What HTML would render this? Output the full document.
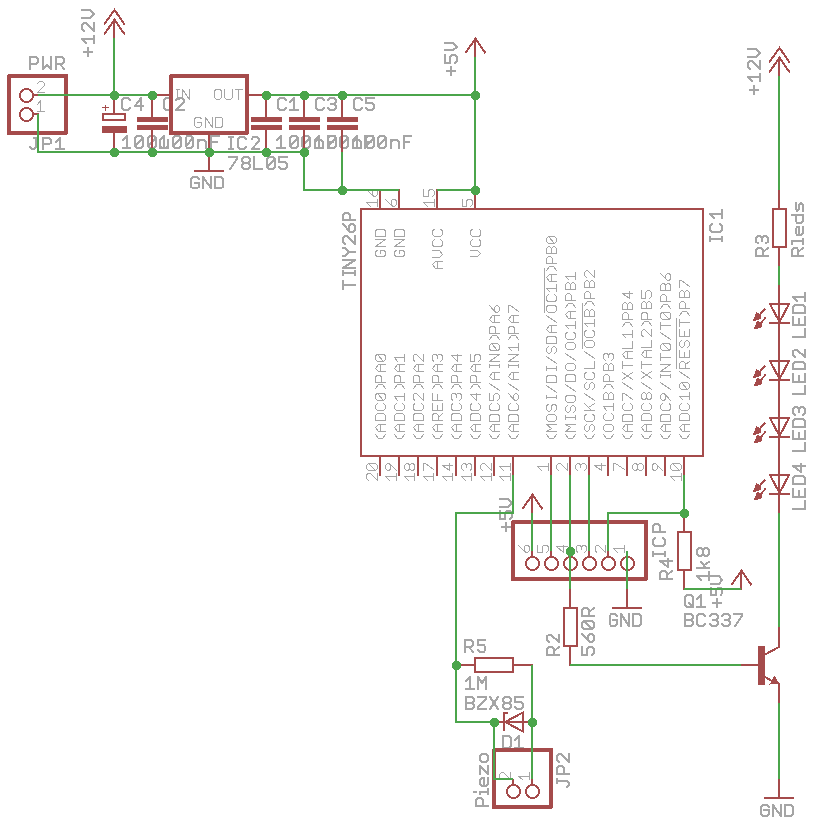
<!DOCTYPE html>
<html><head><meta charset="utf-8"><title>Schematic</title><style>
html,body{margin:0;padding:0;background:#fff;overflow:hidden;}
svg{display:block;}
</style></head><body>
<svg width="818" height="824" viewBox="0 0 818 824" shape-rendering="crispEdges">
<rect width="818" height="824" fill="#fff"/>
<g><path d="M30.00 69.00 L30.00 57.00 L36.00 57.00 L38.00 59.00 L38.00 62.00 L36.00 64.00 L30.00 64.00 M43.00 57.00 L43.00 69.00 L47.00 65.00 L51.00 69.00 L51.00 57.00 M56.00 69.00 L56.00 57.00 L62.00 57.00 L64.00 59.00 L64.00 62.00 L62.00 64.00 L56.00 64.00 M60.00 64.00 L64.00 69.00 M30.00 147.00 L32.00 149.00 L34.00 149.00 L36.00 147.00 L36.00 138.00 M34.00 138.00 L38.00 138.00 M43.00 149.00 L43.00 138.00 L49.00 138.00 L51.00 140.00 L51.00 143.00 L49.00 144.00 L43.00 144.00 M56.00 142.00 L60.00 138.00 L60.00 149.00 M56.00 149.00 L64.00 149.00 M88.00 56.00 L88.00 48.00 M92.00 52.00 L84.00 52.00 M86.00 43.00 L82.00 39.00 L94.00 39.00 M94.00 43.00 L94.00 36.00 M84.00 31.00 L82.00 29.00 L82.00 25.00 L84.00 23.00 L86.00 23.00 L94.00 31.00 L94.00 23.00 M82.00 18.00 L90.00 18.00 L94.00 14.00 L90.00 10.00 L82.00 10.00 M130.00 100.00 L128.00 98.00 L124.00 98.00 L122.00 100.00 L122.00 108.00 L124.00 110.00 L128.00 110.00 L130.00 108.00 M141.00 110.00 L141.00 98.00 L135.00 106.00 L143.00 106.00 M172.00 100.00 L170.00 98.00 L166.00 98.00 L164.00 100.00 L164.00 108.00 L166.00 110.00 L170.00 110.00 L172.00 108.00 M176.00 100.00 L178.00 98.00 L182.00 98.00 L184.00 100.00 L184.00 102.00 L176.00 110.00 L184.00 110.00 M123.00 140.00 L127.00 136.00 L127.00 148.00 M123.00 148.00 L130.00 148.00 M137.00 148.00 L135.00 146.00 L135.00 138.00 L137.00 136.00 L141.00 136.00 L143.00 138.00 L143.00 146.00 L141.00 148.00 L137.00 148.00 M135.00 146.00 L143.00 138.00 M150.00 148.00 L148.00 146.00 L148.00 138.00 L150.00 136.00 L154.00 136.00 L156.00 138.00 L156.00 146.00 L154.00 148.00 L150.00 148.00 M148.00 146.00 L156.00 138.00 M160.00 140.00 L160.00 146.00 L162.00 148.00 L166.00 148.00 L168.00 146.00 M168.00 140.00 L168.00 148.00 M160.00 140.00 L164.00 136.00 L164.00 148.00 M160.00 148.00 L168.00 148.00 M175.00 148.00 L173.00 146.00 L173.00 138.00 L175.00 136.00 L179.00 136.00 L181.00 138.00 L181.00 146.00 L179.00 148.00 L175.00 148.00 M173.00 146.00 L181.00 138.00 M187.00 148.00 L186.00 146.00 L186.00 138.00 L187.00 136.00 L191.00 136.00 L193.00 138.00 L193.00 146.00 L191.00 148.00 L187.00 148.00 M186.00 146.00 L193.00 138.00 M198.00 148.00 L198.00 140.00 M198.00 142.00 L200.00 140.00 L204.00 140.00 L206.00 142.00 L206.00 148.00 M219.00 136.00 L211.00 136.00 L211.00 148.00 M211.00 142.00 L217.00 142.00 M229.00 137.00 L233.00 137.00 M231.00 137.00 L231.00 149.00 M229.00 149.00 L233.00 149.00 M246.00 139.00 L244.00 137.00 L240.00 137.00 L238.00 139.00 L238.00 147.00 L240.00 149.00 L244.00 149.00 L246.00 147.00 M252.00 139.00 L253.00 137.00 L257.00 137.00 L259.00 139.00 L259.00 141.00 L252.00 149.00 L259.00 149.00 M229.00 157.00 L237.00 157.00 L237.00 159.00 L230.00 169.00 M244.00 163.00 L242.00 161.00 L242.00 159.00 L244.00 157.00 L248.00 157.00 L250.00 159.00 L250.00 161.00 L248.00 163.00 L244.00 163.00 L242.00 165.00 L242.00 167.00 L244.00 169.00 L248.00 169.00 L250.00 167.00 L250.00 165.00 L248.00 163.00 M254.00 157.00 L254.00 169.00 L262.00 169.00 M269.00 169.00 L267.00 167.00 L267.00 159.00 L269.00 157.00 L273.00 157.00 L275.00 159.00 L275.00 167.00 L273.00 169.00 L269.00 169.00 M267.00 167.00 L275.00 159.00 M287.00 157.00 L279.00 157.00 L279.00 162.00 L285.00 162.00 L287.00 164.00 L287.00 167.00 L285.00 169.00 L281.00 169.00 L279.00 167.00 M199.00 179.00 L197.00 177.00 L193.00 177.00 L191.00 179.00 L191.00 187.00 L193.00 188.00 L197.00 188.00 L199.00 187.00 L199.00 183.00 L195.00 183.00 M203.00 188.00 L203.00 177.00 L211.00 188.00 L211.00 177.00 M215.00 188.00 L215.00 177.00 L221.00 177.00 L223.00 179.00 L223.00 187.00 L221.00 188.00 L215.00 188.00 M286.00 100.00 L284.00 98.00 L280.00 98.00 L278.00 100.00 L278.00 108.00 L280.00 110.00 L284.00 110.00 L286.00 108.00 M290.00 102.00 L294.00 98.00 L294.00 110.00 M290.00 110.00 L298.00 110.00 M277.00 140.00 L281.00 136.00 L281.00 148.00 M277.00 148.00 L285.00 148.00 M292.00 148.00 L290.00 146.00 L290.00 138.00 L292.00 136.00 L296.00 136.00 L298.00 138.00 L298.00 146.00 L296.00 148.00 L292.00 148.00 M290.00 146.00 L298.00 138.00 M304.00 148.00 L302.00 146.00 L302.00 138.00 L304.00 136.00 L308.00 136.00 L310.00 138.00 L310.00 146.00 L308.00 148.00 L304.00 148.00 M302.00 146.00 L310.00 138.00 M315.00 148.00 L315.00 140.00 M315.00 142.00 L317.00 140.00 L321.00 140.00 L323.00 142.00 L323.00 148.00 M335.00 136.00 L328.00 136.00 L328.00 148.00 M328.00 142.00 L333.00 142.00 M324.00 100.00 L322.00 98.00 L318.00 98.00 L316.00 100.00 L316.00 108.00 L318.00 110.00 L322.00 110.00 L324.00 108.00 M328.00 100.00 L330.00 98.00 L334.00 98.00 L336.00 100.00 L336.00 102.00 L334.00 104.00 L336.00 106.00 L336.00 108.00 L334.00 110.00 L330.00 110.00 L328.00 108.00 M334.00 104.00 L331.00 104.00 M315.00 140.00 L319.00 136.00 L319.00 148.00 M315.00 148.00 L323.00 148.00 M330.00 148.00 L328.00 146.00 L328.00 138.00 L330.00 136.00 L334.00 136.00 L336.00 138.00 L336.00 146.00 L334.00 148.00 L330.00 148.00 M328.00 146.00 L336.00 138.00 M342.00 148.00 L340.00 146.00 L340.00 138.00 L342.00 136.00 L346.00 136.00 L348.00 138.00 L348.00 146.00 L346.00 148.00 L342.00 148.00 M340.00 146.00 L348.00 138.00 M353.00 148.00 L353.00 140.00 M353.00 142.00 L355.00 140.00 L359.00 140.00 L361.00 142.00 L361.00 148.00 M373.00 136.00 L365.00 136.00 L365.00 148.00 M365.00 142.00 L371.00 142.00 M362.00 100.00 L360.00 98.00 L356.00 98.00 L354.00 100.00 L354.00 108.00 L356.00 110.00 L360.00 110.00 L362.00 108.00 M374.00 98.00 L366.00 98.00 L366.00 103.00 L372.00 103.00 L374.00 105.00 L374.00 108.00 L372.00 110.00 L368.00 110.00 L366.00 108.00 M353.00 140.00 L357.00 136.00 L357.00 148.00 M353.00 148.00 L361.00 148.00 M368.00 148.00 L366.00 146.00 L366.00 138.00 L368.00 136.00 L372.00 136.00 L374.00 138.00 L374.00 146.00 L372.00 148.00 L368.00 148.00 M366.00 146.00 L374.00 138.00 M380.00 148.00 L378.00 146.00 L378.00 138.00 L380.00 136.00 L384.00 136.00 L386.00 138.00 L386.00 146.00 L384.00 148.00 L380.00 148.00 M378.00 146.00 L386.00 138.00 M391.00 148.00 L391.00 140.00 M391.00 142.00 L393.00 140.00 L397.00 140.00 L399.00 142.00 L399.00 148.00 M411.00 136.00 L404.00 136.00 L404.00 148.00 M404.00 142.00 L409.00 142.00 M451.00 75.00 L451.00 67.00 M455.00 71.00 L447.00 71.00 M445.00 55.00 L445.00 63.00 L450.00 63.00 L450.00 57.00 L452.00 55.00 L455.00 55.00 L457.00 57.00 L457.00 61.00 L455.00 63.00 M445.00 50.00 L453.00 50.00 L457.00 47.00 L453.00 43.00 L445.00 43.00 M343.00 289.00 L343.00 281.00 M343.00 285.00 L355.00 285.00 M343.00 275.00 L343.00 271.00 M343.00 273.00 L355.00 273.00 M355.00 275.00 L355.00 271.00 M355.00 268.00 L343.00 268.00 L355.00 260.00 L343.00 260.00 M343.00 256.00 L345.00 256.00 L349.00 252.00 L345.00 248.00 L343.00 248.00 M349.00 252.00 L355.00 252.00 M345.00 244.00 L343.00 242.00 L343.00 238.00 L345.00 236.00 L347.00 236.00 L355.00 244.00 L355.00 236.00 M343.00 224.00 L350.00 232.00 L353.00 232.00 L355.00 230.00 L355.00 226.00 L353.00 224.00 L351.00 224.00 L349.00 226.00 L349.00 230.00 L350.00 232.00 M355.00 220.00 L343.00 220.00 L343.00 215.00 L345.00 213.00 L348.00 213.00 L350.00 215.00 L350.00 220.00 M710.00 241.00 L710.00 237.00 M710.00 239.00 L722.00 239.00 M722.00 241.00 L722.00 237.00 M712.00 224.00 L710.00 226.00 L710.00 230.00 L712.00 232.00 L720.00 232.00 L722.00 230.00 L722.00 226.00 L720.00 224.00 M714.00 218.00 L710.00 214.00 L722.00 214.00 M722.00 218.00 L722.00 210.00 M506.00 531.00 L506.00 523.00 M510.00 527.00 L502.00 527.00 M500.00 511.00 L500.00 519.00 L505.00 519.00 L505.00 513.00 L507.00 511.00 L510.00 511.00 L512.00 513.00 L512.00 517.00 L510.00 519.00 M500.00 507.00 L508.00 507.00 L512.00 503.00 L508.00 499.00 L500.00 499.00 M653.00 556.00 L653.00 552.00 M653.00 554.00 L665.00 554.00 M665.00 556.00 L665.00 552.00 M655.00 538.00 L653.00 540.00 L653.00 544.00 L655.00 546.00 L663.00 546.00 L665.00 544.00 L665.00 540.00 L663.00 538.00 M665.00 532.00 L653.00 532.00 L653.00 526.00 L655.00 524.00 L658.00 524.00 L660.00 526.00 L660.00 532.00 M672.00 579.00 L660.00 579.00 L660.00 573.00 L662.00 571.00 L665.00 571.00 L667.00 573.00 L667.00 579.00 M667.00 575.00 L672.00 571.00 M672.00 561.00 L660.00 561.00 L668.00 567.00 L668.00 559.00 M701.00 580.00 L697.00 576.00 L709.00 576.00 M709.00 580.00 L709.00 572.00 M709.00 568.00 L697.00 568.00 M701.00 562.00 L706.00 568.00 M704.00 565.00 L709.00 562.00 M703.00 554.00 L701.00 556.00 L699.00 556.00 L697.00 554.00 L697.00 550.00 L699.00 548.00 L701.00 548.00 L703.00 550.00 L703.00 554.00 L705.00 556.00 L707.00 556.00 L709.00 554.00 L709.00 550.00 L707.00 548.00 L705.00 548.00 L703.00 550.00 M717.00 607.00 L717.00 599.00 M721.00 603.00 L713.00 603.00 M711.00 588.00 L711.00 595.00 L716.00 595.00 L716.00 590.00 L718.00 588.00 L721.00 588.00 L722.00 590.00 L722.00 593.00 L721.00 595.00 M711.00 584.00 L719.00 584.00 L722.00 580.00 L719.00 576.00 L711.00 576.00 M687.00 607.00 L685.00 605.00 L685.00 597.00 L687.00 595.00 L691.00 595.00 L693.00 597.00 L693.00 605.00 L691.00 607.00 L687.00 607.00 M689.00 603.00 L693.00 607.00 M697.00 599.00 L701.00 595.00 L701.00 607.00 M697.00 607.00 L705.00 607.00 M685.00 626.00 L685.00 614.00 L691.00 614.00 L693.00 616.00 L693.00 618.00 L691.00 620.00 L693.00 622.00 L693.00 624.00 L691.00 626.00 L685.00 626.00 M685.00 620.00 L691.00 620.00 M705.00 616.00 L703.00 614.00 L699.00 614.00 L697.00 616.00 L697.00 624.00 L699.00 626.00 L703.00 626.00 L705.00 624.00 M710.00 616.00 L712.00 614.00 L716.00 614.00 L718.00 616.00 L718.00 618.00 L716.00 620.00 L718.00 622.00 L718.00 624.00 L716.00 626.00 L712.00 626.00 L710.00 624.00 M716.00 620.00 L713.00 620.00 M722.00 616.00 L724.00 614.00 L728.00 614.00 L730.00 616.00 L730.00 618.00 L728.00 620.00 L730.00 622.00 L730.00 624.00 L728.00 626.00 L724.00 626.00 L722.00 624.00 M728.00 620.00 L725.00 620.00 M734.00 614.00 L742.00 614.00 L742.00 616.00 L735.00 626.00 M617.00 616.00 L615.00 614.00 L611.00 614.00 L610.00 616.00 L610.00 624.00 L611.00 626.00 L615.00 626.00 L617.00 624.00 L617.00 620.00 L613.00 620.00 M621.00 626.00 L621.00 614.00 L629.00 626.00 L629.00 614.00 M633.00 626.00 L633.00 614.00 L639.00 614.00 L641.00 616.00 L641.00 624.00 L639.00 626.00 L633.00 626.00 M559.00 655.00 L547.00 655.00 L547.00 649.00 L549.00 647.00 L552.00 647.00 L554.00 649.00 L554.00 655.00 M554.00 651.00 L559.00 647.00 M549.00 642.00 L547.00 640.00 L547.00 636.00 L549.00 635.00 L551.00 635.00 L559.00 642.00 L559.00 635.00 M582.00 647.00 L582.00 655.00 L587.00 655.00 L587.00 649.00 L589.00 647.00 L592.00 647.00 L594.00 649.00 L594.00 653.00 L592.00 655.00 M582.00 634.00 L590.00 642.00 L592.00 642.00 L594.00 640.00 L594.00 636.00 L592.00 634.00 L590.00 634.00 L588.00 636.00 L588.00 640.00 L590.00 642.00 M594.00 627.00 L592.00 629.00 L584.00 629.00 L582.00 627.00 L582.00 623.00 L584.00 621.00 L592.00 621.00 L594.00 623.00 L594.00 627.00 M592.00 629.00 L584.00 621.00 M594.00 616.00 L582.00 616.00 L582.00 610.00 L584.00 608.00 L587.00 608.00 L589.00 610.00 L589.00 616.00 M589.00 612.00 L594.00 608.00 M465.00 652.00 L465.00 640.00 L471.00 640.00 L473.00 642.00 L473.00 645.00 L471.00 647.00 L465.00 647.00 M469.00 647.00 L473.00 652.00 M485.00 640.00 L478.00 640.00 L478.00 645.00 L484.00 645.00 L485.00 647.00 L485.00 650.00 L484.00 652.00 L480.00 652.00 L478.00 650.00 M466.00 681.00 L470.00 677.00 L470.00 689.00 M466.00 689.00 L474.00 689.00 M478.00 689.00 L478.00 677.00 L482.00 683.00 L486.00 677.00 L486.00 689.00 M466.00 709.00 L466.00 697.00 L472.00 697.00 L474.00 699.00 L474.00 701.00 L472.00 703.00 L474.00 705.00 L474.00 707.00 L472.00 709.00 L466.00 709.00 M466.00 703.00 L472.00 703.00 M478.00 697.00 L486.00 697.00 L486.00 699.00 L478.00 707.00 L478.00 709.00 L486.00 709.00 M490.00 709.00 L498.00 697.00 M490.00 697.00 L498.00 709.00 M505.00 703.00 L503.00 701.00 L503.00 699.00 L505.00 697.00 L509.00 697.00 L511.00 699.00 L511.00 701.00 L509.00 703.00 L505.00 703.00 L503.00 705.00 L503.00 707.00 L505.00 709.00 L509.00 709.00 L511.00 707.00 L511.00 705.00 L509.00 703.00 M523.00 697.00 L515.00 697.00 L515.00 702.00 L521.00 702.00 L523.00 704.00 L523.00 707.00 L521.00 709.00 L517.00 709.00 L515.00 707.00 M503.00 748.00 L503.00 736.00 L509.00 736.00 L511.00 738.00 L511.00 746.00 L509.00 748.00 L503.00 748.00 M515.00 740.00 L519.00 736.00 L519.00 748.00 M515.00 748.00 L523.00 748.00 M488.00 806.00 L476.00 806.00 L476.00 800.00 L478.00 798.00 L481.00 798.00 L483.00 800.00 L483.00 806.00 M480.00 794.00 L480.00 792.00 L488.00 792.00 M488.00 794.00 L488.00 789.00 M476.00 792.00 L474.00 792.00 M488.00 778.00 L488.00 784.00 L486.00 786.00 L482.00 786.00 L480.00 784.00 L480.00 780.00 L482.00 778.00 L484.00 778.00 L484.00 786.00 M480.00 774.00 L480.00 766.00 L488.00 774.00 L488.00 766.00 M488.00 760.00 L486.00 762.00 L482.00 762.00 L480.00 760.00 L480.00 756.00 L482.00 754.00 L486.00 754.00 L488.00 756.00 L488.00 760.00 M567.00 787.00 L569.00 785.00 L569.00 783.00 L567.00 781.00 L557.00 781.00 M557.00 783.00 L557.00 779.00 M569.00 774.00 L557.00 774.00 L557.00 768.00 L559.00 766.00 L562.00 766.00 L564.00 768.00 L564.00 774.00 M559.00 762.00 L557.00 760.00 L557.00 756.00 L559.00 754.00 L561.00 754.00 L569.00 762.00 L569.00 754.00 M768.00 256.00 L756.00 256.00 L756.00 250.00 L758.00 248.00 L761.00 248.00 L763.00 250.00 L763.00 256.00 M763.00 252.00 L768.00 248.00 M758.00 243.00 L756.00 242.00 L756.00 238.00 L758.00 236.00 L760.00 236.00 L762.00 238.00 L764.00 236.00 L766.00 236.00 L768.00 238.00 L768.00 242.00 L766.00 243.00 M762.00 238.00 L762.00 241.00 M803.00 256.00 L792.00 256.00 L792.00 250.00 L794.00 248.00 L797.00 248.00 L798.00 250.00 L798.00 256.00 M798.00 252.00 L803.00 248.00 M792.00 244.00 L792.00 241.00 L803.00 241.00 M803.00 244.00 L803.00 239.00 M803.00 227.00 L803.00 233.00 L801.00 235.00 L797.00 235.00 L796.00 233.00 L796.00 229.00 L797.00 227.00 L799.00 227.00 L799.00 235.00 M792.00 215.00 L803.00 215.00 L803.00 221.00 L801.00 223.00 L797.00 223.00 L796.00 221.00 L796.00 215.00 M796.00 203.00 L796.00 209.00 L797.00 211.00 L799.00 209.00 L799.00 205.00 L801.00 203.00 L803.00 205.00 L803.00 211.00 M793.00 337.00 L805.00 337.00 L805.00 329.00 M793.00 317.00 L793.00 325.00 L805.00 325.00 L805.00 317.00 M799.00 325.00 L799.00 319.00 M805.00 313.00 L793.00 313.00 L793.00 307.00 L795.00 305.00 L803.00 305.00 L805.00 307.00 L805.00 313.00 M797.00 301.00 L793.00 297.00 L805.00 297.00 M805.00 301.00 L805.00 293.00 M793.00 394.00 L805.00 394.00 L805.00 386.00 M793.00 374.00 L793.00 382.00 L805.00 382.00 L805.00 374.00 M799.00 382.00 L799.00 376.00 M805.00 369.00 L793.00 369.00 L793.00 364.00 L795.00 362.00 L803.00 362.00 L805.00 364.00 L805.00 369.00 M795.00 357.00 L793.00 355.00 L793.00 351.00 L795.00 350.00 L797.00 350.00 L805.00 357.00 L805.00 350.00 M793.00 451.00 L805.00 451.00 L805.00 443.00 M793.00 431.00 L793.00 439.00 L805.00 439.00 L805.00 431.00 M799.00 439.00 L799.00 433.00 M805.00 427.00 L793.00 427.00 L793.00 421.00 L795.00 419.00 L803.00 419.00 L805.00 421.00 L805.00 427.00 M795.00 415.00 L793.00 413.00 L793.00 409.00 L795.00 407.00 L797.00 407.00 L799.00 409.00 L801.00 407.00 L803.00 407.00 L805.00 409.00 L805.00 413.00 L803.00 415.00 M799.00 409.00 L799.00 412.00 M793.00 509.00 L805.00 509.00 L805.00 501.00 M793.00 489.00 L793.00 497.00 L805.00 497.00 L805.00 489.00 M799.00 497.00 L799.00 491.00 M805.00 484.00 L793.00 484.00 L793.00 478.00 L795.00 476.00 L803.00 476.00 L805.00 478.00 L805.00 484.00 M805.00 466.00 L793.00 466.00 L801.00 472.00 L801.00 464.00 M754.00 94.00 L754.00 86.00 M758.00 90.00 L750.00 90.00 M752.00 81.00 L748.00 77.00 L760.00 77.00 M760.00 81.00 L760.00 74.00 M750.00 69.00 L748.00 67.00 L748.00 63.00 L750.00 61.00 L752.00 61.00 L760.00 69.00 L760.00 61.00 M748.00 57.00 L756.00 57.00 L760.00 53.00 L756.00 49.00 L748.00 49.00 M769.00 807.00 L767.00 805.00 L763.00 805.00 L761.00 807.00 L761.00 814.00 L763.00 816.00 L767.00 816.00 L769.00 814.00 L769.00 810.00 L764.00 810.00 M773.00 816.00 L773.00 805.00 L781.00 816.00 L781.00 805.00 M785.00 816.00 L785.00 805.00 L791.00 805.00 L793.00 807.00 L793.00 814.00 L791.00 816.00 L785.00 816.00" fill="none" stroke="#A5A5A5" stroke-width="2.0" stroke-linecap="round" stroke-linejoin="round"/>
<path d="M176.50 89.50 L179.50 89.50 M177.50 89.50 L177.50 99.50 M176.50 99.50 L179.50 99.50 M182.50 99.50 L182.50 89.50 L189.50 99.50 L189.50 89.50 M216.50 99.50 L214.50 97.50 L214.50 90.50 L216.50 89.50 L219.50 89.50 L221.50 90.50 L221.50 97.50 L219.50 99.50 L216.50 99.50 M224.50 89.50 L224.50 97.50 L226.50 99.50 L230.50 99.50 L232.50 97.50 L232.50 89.50 M235.50 89.50 L242.50 89.50 M238.50 89.50 L238.50 99.50 M201.50 118.50 L199.50 117.50 L196.50 117.50 L194.50 118.50 L194.50 125.50 L196.50 127.50 L199.50 127.50 L201.50 125.50 L201.50 122.50 L197.50 122.50 M205.50 127.50 L205.50 117.50 L212.50 127.50 L212.50 117.50 M215.50 127.50 L215.50 117.50 L221.50 117.50 L222.50 118.50 L222.50 125.50 L221.50 127.50 L215.50 127.50 M377.50 250.50 L375.50 251.50 L375.50 255.50 L377.50 256.50 L383.50 256.50 L385.50 255.50 L385.50 251.50 L383.50 250.50 L380.50 250.50 L380.50 253.50 M385.50 246.50 L375.50 246.50 L385.50 239.50 L375.50 239.50 M385.50 236.50 L375.50 236.50 L375.50 230.50 L377.50 229.50 L383.50 229.50 L385.50 230.50 L385.50 236.50 M396.50 250.50 L394.50 251.50 L394.50 255.50 L396.50 256.50 L402.50 256.50 L404.50 255.50 L404.50 251.50 L402.50 250.50 L399.50 250.50 L399.50 253.50 M404.50 246.50 L394.50 246.50 L404.50 239.50 L394.50 239.50 M404.50 236.50 L394.50 236.50 L394.50 230.50 L396.50 229.50 L402.50 229.50 L404.50 230.50 L404.50 236.50 M442.50 268.50 L435.50 268.50 L432.50 264.50 L435.50 261.50 L442.50 261.50 M437.50 268.50 L437.50 261.50 M432.50 257.50 L439.50 257.50 L442.50 254.50 L439.50 250.50 L432.50 250.50 M434.50 239.50 L432.50 241.50 L432.50 245.50 L434.50 246.50 L440.50 246.50 L442.50 245.50 L442.50 241.50 L440.50 239.50 M434.50 229.50 L432.50 230.50 L432.50 234.50 L434.50 236.50 L440.50 236.50 L442.50 234.50 L442.50 230.50 L440.50 229.50 M470.50 256.50 L477.50 256.50 L480.50 253.50 L477.50 250.50 L470.50 250.50 M472.50 239.50 L470.50 241.50 L470.50 244.50 L472.50 246.50 L479.50 246.50 L480.50 244.50 L480.50 241.50 L479.50 239.50 M472.50 229.50 L470.50 230.50 L470.50 234.50 L472.50 236.50 L479.50 236.50 L480.50 234.50 L480.50 230.50 L479.50 229.50 M375.50 434.50 L378.50 438.50 L382.50 438.50 L385.50 434.50 M385.50 431.50 L378.50 431.50 L375.50 427.50 L378.50 424.50 L385.50 424.50 M380.50 431.50 L380.50 424.50 M385.50 420.50 L375.50 420.50 L375.50 415.50 L377.50 413.50 L383.50 413.50 L385.50 415.50 L385.50 420.50 M377.50 403.50 L375.50 405.50 L375.50 408.50 L377.50 410.50 L383.50 410.50 L385.50 408.50 L385.50 405.50 L383.50 403.50 M385.50 398.50 L383.50 400.50 L377.50 400.50 L375.50 398.50 L375.50 394.50 L377.50 393.50 L383.50 393.50 L385.50 394.50 L385.50 398.50 M383.50 400.50 L377.50 393.50 M375.50 388.50 L378.50 384.50 L382.50 384.50 L385.50 388.50 M385.50 382.50 L375.50 382.50 L375.50 376.50 L377.50 375.50 L379.50 375.50 L381.50 376.50 L381.50 382.50 M385.50 371.50 L378.50 371.50 L375.50 368.50 L378.50 364.50 L385.50 364.50 M380.50 371.50 L380.50 364.50 M385.50 359.50 L383.50 361.50 L377.50 361.50 L375.50 359.50 L375.50 355.50 L377.50 354.50 L383.50 354.50 L385.50 355.50 L385.50 359.50 M383.50 361.50 L377.50 354.50 M394.50 434.50 L397.50 438.50 L401.50 438.50 L404.50 434.50 M404.50 431.50 L397.50 431.50 L394.50 427.50 L397.50 424.50 L404.50 424.50 M399.50 431.50 L399.50 424.50 M404.50 420.50 L394.50 420.50 L394.50 415.50 L396.50 413.50 L402.50 413.50 L404.50 415.50 L404.50 420.50 M396.50 403.50 L394.50 405.50 L394.50 408.50 L396.50 410.50 L402.50 410.50 L404.50 408.50 L404.50 405.50 L402.50 403.50 M397.50 400.50 L394.50 396.50 L404.50 396.50 M404.50 400.50 L404.50 393.50 M394.50 388.50 L397.50 384.50 L401.50 384.50 L404.50 388.50 M404.50 382.50 L394.50 382.50 L394.50 376.50 L396.50 375.50 L398.50 375.50 L400.50 376.50 L400.50 382.50 M404.50 371.50 L397.50 371.50 L394.50 368.50 L397.50 364.50 L404.50 364.50 M399.50 371.50 L399.50 364.50 M397.50 361.50 L394.50 357.50 L404.50 357.50 M404.50 361.50 L404.50 354.50 M413.50 434.50 L416.50 438.50 L420.50 438.50 L423.50 434.50 M423.50 431.50 L416.50 431.50 L413.50 427.50 L416.50 424.50 L423.50 424.50 M418.50 431.50 L418.50 424.50 M423.50 420.50 L413.50 420.50 L413.50 415.50 L414.50 413.50 L421.50 413.50 L423.50 415.50 L423.50 420.50 M414.50 403.50 L413.50 405.50 L413.50 408.50 L414.50 410.50 L421.50 410.50 L423.50 408.50 L423.50 405.50 L421.50 403.50 M414.50 400.50 L413.50 398.50 L413.50 394.50 L414.50 393.50 L416.50 393.50 L423.50 400.50 L423.50 393.50 M413.50 388.50 L416.50 384.50 L420.50 384.50 L423.50 388.50 M423.50 382.50 L413.50 382.50 L413.50 376.50 L414.50 375.50 L417.50 375.50 L419.50 376.50 L419.50 382.50 M423.50 371.50 L416.50 371.50 L413.50 368.50 L416.50 364.50 L423.50 364.50 M418.50 371.50 L418.50 364.50 M414.50 361.50 L413.50 359.50 L413.50 355.50 L414.50 354.50 L416.50 354.50 L423.50 361.50 L423.50 354.50 M432.50 434.50 L435.50 438.50 L439.50 438.50 L442.50 434.50 M442.50 431.50 L435.50 431.50 L432.50 427.50 L435.50 424.50 L442.50 424.50 M437.50 431.50 L437.50 424.50 M442.50 420.50 L432.50 420.50 L432.50 415.50 L433.50 413.50 L436.50 413.50 L438.50 415.50 L438.50 420.50 M438.50 417.50 L442.50 413.50 M432.50 403.50 L432.50 410.50 L442.50 410.50 L442.50 403.50 M437.50 410.50 L437.50 405.50 M432.50 393.50 L432.50 400.50 L442.50 400.50 M437.50 400.50 L437.50 394.50 M432.50 388.50 L435.50 384.50 L439.50 384.50 L442.50 388.50 M442.50 382.50 L432.50 382.50 L432.50 376.50 L433.50 375.50 L436.50 375.50 L438.50 376.50 L438.50 382.50 M442.50 371.50 L435.50 371.50 L432.50 368.50 L435.50 364.50 L442.50 364.50 M437.50 371.50 L437.50 364.50 M433.50 361.50 L432.50 359.50 L432.50 355.50 L433.50 354.50 L435.50 354.50 L437.50 355.50 L438.50 354.50 L440.50 354.50 L442.50 355.50 L442.50 359.50 L440.50 361.50 M437.50 355.50 L437.50 358.50 M451.50 434.50 L454.50 438.50 L458.50 438.50 L461.50 434.50 M461.50 431.50 L454.50 431.50 L451.50 427.50 L454.50 424.50 L461.50 424.50 M456.50 431.50 L456.50 424.50 M461.50 420.50 L451.50 420.50 L451.50 415.50 L452.50 413.50 L459.50 413.50 L461.50 415.50 L461.50 420.50 M452.50 403.50 L451.50 405.50 L451.50 408.50 L452.50 410.50 L459.50 410.50 L461.50 408.50 L461.50 405.50 L459.50 403.50 M452.50 400.50 L451.50 398.50 L451.50 394.50 L452.50 393.50 L454.50 393.50 L456.50 394.50 L457.50 393.50 L459.50 393.50 L461.50 394.50 L461.50 398.50 L459.50 400.50 M456.50 394.50 L456.50 397.50 M451.50 388.50 L454.50 384.50 L458.50 384.50 L461.50 388.50 M461.50 382.50 L451.50 382.50 L451.50 376.50 L452.50 375.50 L455.50 375.50 L457.50 376.50 L457.50 382.50 M461.50 371.50 L454.50 371.50 L451.50 368.50 L454.50 364.50 L461.50 364.50 M456.50 371.50 L456.50 364.50 M461.50 355.50 L451.50 355.50 L457.50 361.50 L457.50 354.50 M470.50 434.50 L473.50 438.50 L477.50 438.50 L480.50 434.50 M480.50 431.50 L473.50 431.50 L470.50 427.50 L473.50 424.50 L480.50 424.50 M475.50 431.50 L475.50 424.50 M480.50 420.50 L470.50 420.50 L470.50 415.50 L471.50 413.50 L478.50 413.50 L480.50 415.50 L480.50 420.50 M471.50 403.50 L470.50 405.50 L470.50 408.50 L471.50 410.50 L478.50 410.50 L480.50 408.50 L480.50 405.50 L478.50 403.50 M480.50 394.50 L470.50 394.50 L476.50 400.50 L476.50 393.50 M470.50 388.50 L473.50 384.50 L477.50 384.50 L480.50 388.50 M480.50 382.50 L470.50 382.50 L470.50 376.50 L471.50 375.50 L474.50 375.50 L476.50 376.50 L476.50 382.50 M480.50 371.50 L473.50 371.50 L470.50 368.50 L473.50 364.50 L480.50 364.50 M475.50 371.50 L475.50 364.50 M470.50 354.50 L470.50 361.50 L474.50 361.50 L474.50 355.50 L476.50 354.50 L478.50 354.50 L480.50 355.50 L480.50 359.50 L478.50 361.50 M489.50 434.50 L492.50 438.50 L496.50 438.50 L499.50 434.50 M499.50 431.50 L492.50 431.50 L489.50 428.50 L492.50 424.50 L499.50 424.50 M494.50 431.50 L494.50 424.50 M499.50 421.50 L489.50 421.50 L489.50 415.50 L491.50 414.50 L497.50 414.50 L499.50 415.50 L499.50 421.50 M491.50 403.50 L489.50 405.50 L489.50 409.50 L491.50 410.50 L497.50 410.50 L499.50 409.50 L499.50 405.50 L497.50 403.50 M489.50 393.50 L489.50 400.50 L493.50 400.50 L493.50 395.50 L495.50 393.50 L497.50 393.50 L499.50 395.50 L499.50 398.50 L497.50 400.50 M499.50 390.50 L489.50 383.50 M499.50 379.50 L492.50 379.50 L489.50 376.50 L492.50 372.50 L499.50 372.50 M494.50 379.50 L494.50 372.50 M489.50 367.50 L489.50 364.50 M489.50 365.50 L499.50 365.50 M499.50 367.50 L499.50 364.50 M499.50 361.50 L489.50 361.50 L499.50 354.50 L489.50 354.50 M499.50 349.50 L497.50 350.50 L491.50 350.50 L489.50 349.50 L489.50 345.50 L491.50 343.50 L497.50 343.50 L499.50 345.50 L499.50 349.50 M497.50 350.50 L491.50 343.50 M489.50 339.50 L492.50 335.50 L496.50 335.50 L499.50 339.50 M499.50 333.50 L489.50 333.50 L489.50 327.50 L491.50 326.50 L493.50 326.50 L495.50 327.50 L495.50 333.50 M499.50 322.50 L492.50 322.50 L489.50 319.50 L492.50 315.50 L499.50 315.50 M494.50 322.50 L494.50 315.50 M489.50 305.50 L495.50 312.50 L497.50 312.50 L499.50 310.50 L499.50 307.50 L497.50 305.50 L496.50 305.50 L494.50 307.50 L494.50 310.50 L495.50 312.50 M508.50 434.50 L511.50 438.50 L515.50 438.50 L518.50 434.50 M518.50 431.50 L511.50 431.50 L508.50 428.50 L511.50 424.50 L518.50 424.50 M513.50 431.50 L513.50 424.50 M518.50 421.50 L508.50 421.50 L508.50 415.50 L510.50 414.50 L516.50 414.50 L518.50 415.50 L518.50 421.50 M510.50 403.50 L508.50 405.50 L508.50 409.50 L510.50 410.50 L516.50 410.50 L518.50 409.50 L518.50 405.50 L516.50 403.50 M508.50 393.50 L514.50 400.50 L516.50 400.50 L518.50 398.50 L518.50 395.50 L516.50 393.50 L515.50 393.50 L513.50 395.50 L513.50 398.50 L514.50 400.50 M518.50 390.50 L508.50 383.50 M518.50 379.50 L511.50 379.50 L508.50 376.50 L511.50 372.50 L518.50 372.50 M513.50 379.50 L513.50 372.50 M508.50 367.50 L508.50 364.50 M508.50 365.50 L518.50 365.50 M518.50 367.50 L518.50 364.50 M518.50 361.50 L508.50 361.50 L518.50 354.50 L508.50 354.50 M511.50 350.50 L508.50 347.50 L518.50 347.50 M518.50 350.50 L518.50 343.50 M508.50 339.50 L511.50 335.50 L515.50 335.50 L518.50 339.50 M518.50 333.50 L508.50 333.50 L508.50 327.50 L510.50 326.50 L512.50 326.50 L514.50 327.50 L514.50 333.50 M518.50 322.50 L511.50 322.50 L508.50 319.50 L511.50 315.50 L518.50 315.50 M513.50 322.50 L513.50 315.50 M508.50 312.50 L508.50 305.50 L510.50 305.50 L518.50 311.50 M546.50 434.50 L549.50 438.50 L553.50 438.50 L556.50 434.50 M556.50 431.50 L546.50 431.50 L551.50 428.50 L546.50 424.50 L556.50 424.50 M556.50 419.50 L554.50 421.50 L548.50 421.50 L546.50 419.50 L546.50 416.50 L548.50 414.50 L554.50 414.50 L556.50 416.50 L556.50 419.50 M548.50 404.50 L546.50 405.50 L546.50 409.50 L548.50 411.50 L549.50 411.50 L551.50 409.50 L551.50 405.50 L553.50 404.50 L554.50 404.50 L556.50 405.50 L556.50 409.50 L554.50 411.50 M546.50 398.50 L546.50 395.50 M546.50 397.50 L556.50 397.50 M556.50 398.50 L556.50 395.50 M556.50 392.50 L546.50 385.50 M556.50 382.50 L546.50 382.50 L546.50 376.50 L548.50 375.50 L554.50 375.50 L556.50 376.50 L556.50 382.50 M546.50 370.50 L546.50 366.50 M546.50 368.50 L556.50 368.50 M556.50 370.50 L556.50 366.50 M556.50 363.50 L546.50 356.50 M548.50 346.50 L546.50 348.50 L546.50 351.50 L548.50 353.50 L549.50 353.50 L551.50 351.50 L551.50 348.50 L553.50 346.50 L554.50 346.50 L556.50 348.50 L556.50 351.50 L554.50 353.50 M556.50 343.50 L546.50 343.50 L546.50 337.50 L548.50 336.50 L554.50 336.50 L556.50 337.50 L556.50 343.50 M556.50 332.50 L549.50 332.50 L546.50 329.50 L549.50 325.50 L556.50 325.50 M551.50 332.50 L551.50 325.50 M556.50 322.50 L546.50 315.50 M556.50 310.50 L554.50 312.50 L548.50 312.50 L546.50 310.50 L546.50 306.50 L548.50 305.50 L554.50 305.50 L556.50 306.50 L556.50 310.50 M548.50 294.50 L546.50 296.50 L546.50 300.50 L548.50 301.50 L554.50 301.50 L556.50 300.50 L556.50 296.50 L554.50 294.50 M549.50 291.50 L546.50 288.50 L556.50 288.50 M556.50 291.50 L556.50 284.50 M556.50 281.50 L549.50 281.50 L546.50 277.50 L549.50 274.50 L556.50 274.50 M551.50 281.50 L551.50 274.50 M546.50 270.50 L549.50 266.50 L553.50 266.50 L556.50 270.50 M556.50 263.50 L546.50 263.50 L546.50 258.50 L548.50 256.50 L550.50 256.50 L552.50 258.50 L552.50 263.50 M556.50 253.50 L546.50 253.50 L546.50 248.50 L548.50 246.50 L549.50 246.50 L551.50 248.50 L553.50 246.50 L554.50 246.50 L556.50 248.50 L556.50 253.50 M551.50 253.50 L551.50 248.50 M556.50 241.50 L554.50 243.50 L548.50 243.50 L546.50 241.50 L546.50 238.50 L548.50 236.50 L554.50 236.50 L556.50 238.50 L556.50 241.50 M554.50 243.50 L548.50 236.50 M544.50 312.77 L544.50 268.25 M565.50 434.50 L568.50 438.50 L572.50 438.50 L575.50 434.50 M575.50 431.50 L565.50 431.50 L570.50 427.50 L565.50 424.50 L575.50 424.50 M565.50 419.50 L565.50 415.50 M565.50 417.50 L575.50 417.50 M575.50 419.50 L575.50 415.50 M567.50 405.50 L565.50 407.50 L565.50 410.50 L567.50 412.50 L568.50 412.50 L570.50 410.50 L570.50 407.50 L572.50 405.50 L573.50 405.50 L575.50 407.50 L575.50 410.50 L573.50 412.50 M575.50 400.50 L573.50 402.50 L567.50 402.50 L565.50 400.50 L565.50 396.50 L567.50 395.50 L573.50 395.50 L575.50 396.50 L575.50 400.50 M575.50 391.50 L565.50 384.50 M575.50 381.50 L565.50 381.50 L565.50 375.50 L567.50 374.50 L573.50 374.50 L575.50 375.50 L575.50 381.50 M575.50 368.50 L573.50 370.50 L567.50 370.50 L565.50 368.50 L565.50 365.50 L567.50 363.50 L573.50 363.50 L575.50 365.50 L575.50 368.50 M575.50 360.50 L565.50 353.50 M575.50 347.50 L573.50 349.50 L567.50 349.50 L565.50 347.50 L565.50 344.50 L567.50 342.50 L573.50 342.50 L575.50 344.50 L575.50 347.50 M567.50 332.50 L565.50 333.50 L565.50 337.50 L567.50 339.50 L573.50 339.50 L575.50 337.50 L575.50 333.50 L573.50 332.50 M568.50 328.50 L565.50 325.50 L575.50 325.50 M575.50 328.50 L575.50 321.50 M575.50 318.50 L568.50 318.50 L565.50 314.50 L568.50 311.50 L575.50 311.50 M570.50 318.50 L570.50 311.50 M565.50 307.50 L568.50 303.50 L572.50 303.50 L575.50 307.50 M575.50 300.50 L565.50 300.50 L565.50 295.50 L567.50 293.50 L569.50 293.50 L571.50 295.50 L571.50 300.50 M575.50 289.50 L565.50 289.50 L565.50 284.50 L567.50 282.50 L568.50 282.50 L570.50 284.50 L572.50 282.50 L573.50 282.50 L575.50 284.50 L575.50 289.50 M570.50 289.50 L570.50 284.50 M568.50 279.50 L565.50 276.50 L575.50 276.50 M575.50 279.50 L575.50 272.50 M584.50 434.50 L587.50 438.50 L591.50 438.50 L594.50 434.50 M586.50 424.50 L584.50 426.50 L584.50 429.50 L586.50 431.50 L587.50 431.50 L589.50 429.50 L589.50 426.50 L591.50 424.50 L592.50 424.50 L594.50 426.50 L594.50 429.50 L592.50 431.50 M586.50 414.50 L584.50 415.50 L584.50 419.50 L586.50 421.50 L592.50 421.50 L594.50 419.50 L594.50 415.50 L592.50 414.50 M594.50 410.50 L584.50 410.50 M584.50 403.50 L591.50 410.50 M588.50 407.50 L594.50 403.50 M594.50 400.50 L584.50 393.50 M586.50 382.50 L584.50 384.50 L584.50 387.50 L586.50 389.50 L587.50 389.50 L589.50 387.50 L589.50 384.50 L591.50 382.50 L592.50 382.50 L594.50 384.50 L594.50 387.50 L592.50 389.50 M586.50 372.50 L584.50 373.50 L584.50 377.50 L586.50 379.50 L592.50 379.50 L594.50 377.50 L594.50 373.50 L592.50 372.50 M584.50 368.50 L594.50 368.50 L594.50 361.50 M594.50 358.50 L584.50 351.50 M594.50 345.50 L592.50 347.50 L586.50 347.50 L584.50 345.50 L584.50 342.50 L586.50 340.50 L592.50 340.50 L594.50 342.50 L594.50 345.50 M586.50 330.50 L584.50 331.50 L584.50 335.50 L586.50 337.50 L592.50 337.50 L594.50 335.50 L594.50 331.50 L592.50 330.50 M587.50 326.50 L584.50 323.50 L594.50 323.50 M594.50 326.50 L594.50 319.50 M594.50 316.50 L584.50 316.50 L584.50 311.50 L586.50 309.50 L587.50 309.50 L589.50 311.50 L591.50 309.50 L592.50 309.50 L594.50 311.50 L594.50 316.50 M589.50 316.50 L589.50 311.50 M584.50 305.50 L587.50 301.50 L591.50 301.50 L594.50 305.50 M594.50 298.50 L584.50 298.50 L584.50 293.50 L586.50 291.50 L588.50 291.50 L590.50 293.50 L590.50 298.50 M594.50 287.50 L584.50 287.50 L584.50 282.50 L586.50 280.50 L587.50 280.50 L589.50 282.50 L591.50 280.50 L592.50 280.50 L594.50 282.50 L594.50 287.50 M589.50 287.50 L589.50 282.50 M586.50 277.50 L584.50 275.50 L584.50 272.50 L586.50 270.50 L587.50 270.50 L594.50 277.50 L594.50 270.50 M582.50 348.21 L582.50 303.13 M603.50 434.50 L606.50 438.50 L610.50 438.50 L613.50 434.50 M613.50 429.50 L611.50 431.50 L605.50 431.50 L603.50 429.50 L603.50 426.50 L605.50 424.50 L611.50 424.50 L613.50 426.50 L613.50 429.50 M605.50 413.50 L603.50 415.50 L603.50 418.50 L605.50 420.50 L611.50 420.50 L613.50 418.50 L613.50 415.50 L611.50 413.50 M606.50 410.50 L603.50 406.50 L613.50 406.50 M613.50 410.50 L613.50 403.50 M613.50 399.50 L603.50 399.50 L603.50 394.50 L605.50 392.50 L606.50 392.50 L608.50 394.50 L610.50 392.50 L611.50 392.50 L613.50 394.50 L613.50 399.50 M608.50 399.50 L608.50 394.50 M603.50 388.50 L606.50 384.50 L610.50 384.50 L613.50 388.50 M613.50 381.50 L603.50 381.50 L603.50 376.50 L605.50 374.50 L607.50 374.50 L609.50 376.50 L609.50 381.50 M613.50 370.50 L603.50 370.50 L603.50 365.50 L605.50 363.50 L606.50 363.50 L608.50 365.50 L610.50 363.50 L611.50 363.50 L613.50 365.50 L613.50 370.50 M608.50 370.50 L608.50 365.50 M605.50 360.50 L603.50 358.50 L603.50 354.50 L605.50 353.50 L606.50 353.50 L608.50 354.50 L610.50 353.50 L611.50 353.50 L613.50 354.50 L613.50 358.50 L611.50 360.50 M608.50 354.50 L608.50 357.50 M622.50 434.50 L625.50 438.50 L629.50 438.50 L632.50 434.50 M632.50 431.50 L625.50 431.50 L622.50 428.50 L625.50 424.50 L632.50 424.50 M627.50 431.50 L627.50 424.50 M632.50 421.50 L622.50 421.50 L622.50 415.50 L624.50 414.50 L630.50 414.50 L632.50 415.50 L632.50 421.50 M624.50 403.50 L622.50 405.50 L622.50 408.50 L624.50 410.50 L630.50 410.50 L632.50 408.50 L632.50 405.50 L630.50 403.50 M622.50 400.50 L622.50 393.50 L624.50 393.50 L632.50 399.50 M632.50 389.50 L622.50 382.50 M632.50 379.50 L622.50 372.50 M622.50 379.50 L632.50 372.50 M622.50 368.50 L622.50 361.50 M622.50 365.50 L632.50 365.50 M632.50 358.50 L625.50 358.50 L622.50 354.50 L625.50 351.50 L632.50 351.50 M627.50 358.50 L627.50 351.50 M622.50 348.50 L632.50 348.50 L632.50 341.50 M625.50 337.50 L622.50 334.50 L632.50 334.50 M632.50 337.50 L632.50 330.50 M622.50 326.50 L625.50 322.50 L629.50 322.50 L632.50 326.50 M632.50 319.50 L622.50 319.50 L622.50 314.50 L624.50 312.50 L626.50 312.50 L628.50 314.50 L628.50 319.50 M632.50 309.50 L622.50 309.50 L622.50 304.50 L624.50 302.50 L625.50 302.50 L627.50 304.50 L629.50 302.50 L630.50 302.50 L632.50 304.50 L632.50 309.50 M627.50 309.50 L627.50 304.50 M632.50 293.50 L622.50 293.50 L629.50 298.50 L629.50 291.50 M641.50 434.50 L644.50 438.50 L648.50 438.50 L651.50 434.50 M651.50 431.50 L644.50 431.50 L641.50 427.50 L644.50 424.50 L651.50 424.50 M646.50 431.50 L646.50 424.50 M651.50 420.50 L641.50 420.50 L641.50 415.50 L643.50 413.50 L649.50 413.50 L651.50 415.50 L651.50 420.50 M643.50 403.50 L641.50 405.50 L641.50 408.50 L643.50 410.50 L649.50 410.50 L651.50 408.50 L651.50 405.50 L649.50 403.50 M646.50 398.50 L644.50 399.50 L643.50 399.50 L641.50 398.50 L641.50 394.50 L643.50 392.50 L644.50 392.50 L646.50 394.50 L646.50 398.50 L648.50 399.50 L649.50 399.50 L651.50 398.50 L651.50 394.50 L649.50 392.50 L648.50 392.50 L646.50 394.50 M651.50 389.50 L641.50 382.50 M651.50 378.50 L641.50 371.50 M641.50 378.50 L651.50 371.50 M641.50 368.50 L641.50 361.50 M641.50 364.50 L651.50 364.50 M651.50 357.50 L644.50 357.50 L641.50 354.50 L644.50 350.50 L651.50 350.50 M646.50 357.50 L646.50 350.50 M641.50 347.50 L651.50 347.50 L651.50 340.50 M643.50 336.50 L641.50 335.50 L641.50 331.50 L643.50 329.50 L644.50 329.50 L651.50 336.50 L651.50 329.50 M641.50 325.50 L644.50 321.50 L648.50 321.50 L651.50 325.50 M651.50 319.50 L641.50 319.50 L641.50 313.50 L643.50 312.50 L645.50 312.50 L647.50 313.50 L647.50 319.50 M651.50 308.50 L641.50 308.50 L641.50 303.50 L643.50 301.50 L644.50 301.50 L646.50 303.50 L648.50 301.50 L649.50 301.50 L651.50 303.50 L651.50 308.50 M646.50 308.50 L646.50 303.50 M641.50 290.50 L641.50 298.50 L645.50 298.50 L645.50 292.50 L647.50 290.50 L649.50 290.50 L651.50 292.50 L651.50 296.50 L649.50 298.50 M660.50 434.50 L663.50 438.50 L667.50 438.50 L670.50 434.50 M670.50 431.50 L663.50 431.50 L660.50 428.50 L663.50 424.50 L670.50 424.50 M665.50 431.50 L665.50 424.50 M670.50 421.50 L660.50 421.50 L660.50 415.50 L662.50 414.50 L669.50 414.50 L670.50 415.50 L670.50 421.50 M662.50 403.50 L660.50 405.50 L660.50 408.50 L662.50 410.50 L669.50 410.50 L670.50 408.50 L670.50 405.50 L669.50 403.50 M670.50 400.50 L664.50 393.50 L662.50 393.50 L660.50 395.50 L660.50 398.50 L662.50 400.50 L664.50 400.50 L665.50 398.50 L665.50 395.50 L664.50 393.50 M670.50 389.50 L660.50 382.50 M660.50 377.50 L660.50 374.50 M660.50 375.50 L670.50 375.50 M670.50 377.50 L670.50 374.50 M670.50 371.50 L660.50 371.50 L670.50 364.50 L660.50 364.50 M660.50 360.50 L660.50 353.50 M660.50 357.50 L670.50 357.50 M670.50 348.50 L669.50 350.50 L662.50 350.50 L660.50 348.50 L660.50 345.50 L662.50 343.50 L669.50 343.50 L670.50 345.50 L670.50 348.50 M669.50 350.50 L662.50 343.50 M670.50 339.50 L660.50 332.50 M660.50 329.50 L660.50 322.50 M660.50 325.50 L670.50 325.50 M670.50 317.50 L669.50 319.50 L662.50 319.50 L660.50 317.50 L660.50 313.50 L662.50 312.50 L669.50 312.50 L670.50 313.50 L670.50 317.50 M669.50 319.50 L662.50 312.50 M660.50 308.50 L663.50 304.50 L667.50 304.50 L670.50 308.50 M670.50 301.50 L660.50 301.50 L660.50 296.50 L662.50 294.50 L664.50 294.50 L666.50 296.50 L666.50 301.50 M670.50 290.50 L660.50 290.50 L660.50 285.50 L662.50 283.50 L664.50 283.50 L665.50 285.50 L667.50 283.50 L669.50 283.50 L670.50 285.50 L670.50 290.50 M665.50 290.50 L665.50 285.50 M660.50 273.50 L667.50 280.50 L669.50 280.50 L670.50 278.50 L670.50 275.50 L669.50 273.50 L667.50 273.50 L665.50 275.50 L665.50 278.50 L667.50 280.50 M679.50 434.50 L682.50 438.50 L686.50 438.50 L689.50 434.50 M689.50 431.50 L682.50 431.50 L679.50 427.50 L682.50 424.50 L689.50 424.50 M684.50 431.50 L684.50 424.50 M689.50 420.50 L679.50 420.50 L679.50 415.50 L681.50 413.50 L687.50 413.50 L689.50 415.50 L689.50 420.50 M681.50 403.50 L679.50 405.50 L679.50 408.50 L681.50 410.50 L687.50 410.50 L689.50 408.50 L689.50 405.50 L687.50 403.50 M682.50 399.50 L679.50 396.50 L689.50 396.50 M689.50 399.50 L689.50 392.50 M689.50 387.50 L687.50 389.50 L681.50 389.50 L679.50 387.50 L679.50 384.50 L681.50 382.50 L687.50 382.50 L689.50 384.50 L689.50 387.50 M687.50 389.50 L681.50 382.50 M689.50 378.50 L679.50 371.50 M689.50 368.50 L679.50 368.50 L679.50 363.50 L681.50 361.50 L683.50 361.50 L685.50 363.50 L685.50 368.50 M685.50 364.50 L689.50 361.50 M679.50 350.50 L679.50 357.50 L689.50 357.50 L689.50 350.50 M684.50 357.50 L684.50 352.50 M681.50 340.50 L679.50 342.50 L679.50 345.50 L681.50 347.50 L682.50 347.50 L684.50 345.50 L684.50 342.50 L686.50 340.50 L687.50 340.50 L689.50 342.50 L689.50 345.50 L687.50 347.50 M679.50 329.50 L679.50 336.50 L689.50 336.50 L689.50 329.50 M684.50 336.50 L684.50 331.50 M679.50 326.50 L679.50 319.50 M679.50 322.50 L689.50 322.50 M679.50 315.50 L682.50 311.50 L686.50 311.50 L689.50 315.50 M689.50 308.50 L679.50 308.50 L679.50 303.50 L681.50 301.50 L683.50 301.50 L685.50 303.50 L685.50 308.50 M689.50 297.50 L679.50 297.50 L679.50 292.50 L681.50 290.50 L682.50 290.50 L684.50 292.50 L686.50 290.50 L687.50 290.50 L689.50 292.50 L689.50 297.50 M684.50 297.50 L684.50 292.50 M679.50 287.50 L679.50 280.50 L681.50 280.50 L689.50 286.50 M676.50 368.85 L676.50 318.71 M370.50 206.50 L366.50 202.50 L377.50 202.50 M377.50 206.50 L377.50 199.50 M366.50 189.50 L373.50 196.50 L375.50 196.50 L377.50 194.50 L377.50 191.50 L375.50 189.50 L373.50 189.50 L372.50 191.50 L372.50 194.50 L373.50 196.50 M385.50 199.50 L392.50 206.50 L394.50 206.50 L396.50 204.50 L396.50 200.50 L394.50 199.50 L392.50 199.50 L391.50 200.50 L391.50 204.50 L392.50 206.50 M427.50 206.50 L423.50 202.50 L434.50 202.50 M434.50 206.50 L434.50 199.50 M423.50 189.50 L423.50 196.50 L428.50 196.50 L428.50 191.50 L429.50 189.50 L432.50 189.50 L434.50 191.50 L434.50 194.50 L432.50 196.50 M462.50 199.50 L462.50 206.50 L466.50 206.50 L466.50 200.50 L468.50 199.50 L470.50 199.50 L472.50 200.50 L472.50 204.50 L470.50 206.50 M368.50 480.50 L366.50 478.50 L366.50 474.50 L368.50 473.50 L370.50 473.50 L377.50 480.50 L377.50 473.50 M377.50 468.50 L375.50 470.50 L368.50 470.50 L366.50 468.50 L366.50 465.50 L368.50 463.50 L375.50 463.50 L377.50 465.50 L377.50 468.50 M375.50 470.50 L368.50 463.50 M389.50 480.50 L385.50 476.50 L396.50 476.50 M396.50 480.50 L396.50 473.50 M396.50 470.50 L389.50 463.50 L387.50 463.50 L385.50 465.50 L385.50 468.50 L387.50 470.50 L389.50 470.50 L390.50 468.50 L390.50 465.50 L389.50 463.50 M408.50 480.50 L404.50 476.50 L414.50 476.50 M414.50 480.50 L414.50 473.50 M409.50 468.50 L408.50 470.50 L406.50 470.50 L404.50 468.50 L404.50 465.50 L406.50 463.50 L408.50 463.50 L409.50 465.50 L409.50 468.50 L411.50 470.50 L413.50 470.50 L414.50 468.50 L414.50 465.50 L413.50 463.50 L411.50 463.50 L409.50 465.50 M427.50 480.50 L423.50 476.50 L433.50 476.50 M433.50 480.50 L433.50 473.50 M423.50 470.50 L423.50 463.50 L425.50 463.50 L433.50 469.50 M446.50 480.50 L442.50 476.50 L452.50 476.50 M452.50 480.50 L452.50 473.50 M452.50 465.50 L442.50 465.50 L449.50 470.50 L449.50 463.50 M465.50 480.50 L461.50 476.50 L471.50 476.50 M471.50 480.50 L471.50 473.50 M463.50 470.50 L461.50 468.50 L461.50 465.50 L463.50 463.50 L465.50 463.50 L466.50 465.50 L468.50 463.50 L470.50 463.50 L471.50 465.50 L471.50 468.50 L470.50 470.50 M466.50 465.50 L466.50 467.50 M484.50 480.50 L480.50 476.50 L491.50 476.50 M491.50 480.50 L491.50 473.50 M482.50 470.50 L480.50 468.50 L480.50 465.50 L482.50 463.50 L484.50 463.50 L491.50 470.50 L491.50 463.50 M503.50 480.50 L499.50 476.50 L510.50 476.50 M510.50 480.50 L510.50 473.50 M503.50 470.50 L499.50 466.50 L510.50 466.50 M510.50 470.50 L510.50 463.50 M541.50 470.50 L537.50 466.50 L548.50 466.50 M548.50 470.50 L548.50 463.50 M558.50 470.50 L556.50 468.50 L556.50 465.50 L558.50 463.50 L560.50 463.50 L567.50 470.50 L567.50 463.50 M577.50 470.50 L575.50 468.50 L575.50 465.50 L577.50 463.50 L579.50 463.50 L580.50 465.50 L582.50 463.50 L584.50 463.50 L586.50 465.50 L586.50 468.50 L584.50 470.50 M580.50 465.50 L580.50 467.50 M605.50 465.50 L594.50 465.50 L601.50 470.50 L601.50 463.50 M613.50 470.50 L613.50 463.50 L615.50 463.50 L624.50 469.50 M637.50 468.50 L636.50 470.50 L634.50 470.50 L632.50 468.50 L632.50 465.50 L634.50 463.50 L636.50 463.50 L637.50 465.50 L637.50 468.50 L639.50 470.50 L641.50 470.50 L643.50 468.50 L643.50 465.50 L641.50 463.50 L639.50 463.50 L637.50 465.50 M662.50 470.50 L655.50 463.50 L653.50 463.50 L652.50 465.50 L652.50 468.50 L653.50 470.50 L655.50 470.50 L657.50 468.50 L657.50 465.50 L655.50 463.50 M674.50 480.50 L670.50 476.50 L681.50 476.50 M681.50 480.50 L681.50 473.50 M681.50 468.50 L679.50 470.50 L672.50 470.50 L670.50 468.50 L670.50 465.50 L672.50 463.50 L679.50 463.50 L681.50 465.50 L681.50 468.50 M679.50 470.50 L672.50 463.50 M37.50 83.50 L39.50 81.50 L42.50 81.50 L44.50 83.50 L44.50 85.50 L37.50 92.50 L44.50 92.50 M37.50 104.50 L40.50 100.50 L40.50 111.50 M37.50 111.50 L44.50 111.50 M518.50 545.50 L525.50 552.50 L527.50 552.50 L529.50 550.50 L529.50 546.50 L527.50 545.50 L525.50 545.50 L524.50 546.50 L524.50 550.50 L525.50 552.50 M537.50 545.50 L537.50 552.50 L542.50 552.50 L542.50 546.50 L543.50 545.50 L546.50 545.50 L548.50 546.50 L548.50 550.50 L546.50 552.50 M567.50 546.50 L556.50 546.50 L563.50 552.50 L563.50 545.50 M577.50 552.50 L576.50 550.50 L576.50 546.50 L577.50 545.50 L579.50 545.50 L581.50 546.50 L583.50 545.50 L584.50 545.50 L586.50 546.50 L586.50 550.50 L584.50 552.50 M581.50 546.50 L581.50 549.50 M596.50 552.50 L595.50 550.50 L595.50 546.50 L596.50 545.50 L598.50 545.50 L605.50 552.50 L605.50 545.50 M617.50 552.50 L613.50 548.50 L624.50 548.50 M624.50 552.50 L624.50 545.50 M501.50 779.50 L499.50 778.50 L499.50 774.50 L501.50 772.50 L503.50 772.50 L510.50 779.50 L510.50 772.50 M522.50 779.50 L518.50 776.50 L529.50 776.50 M529.50 779.50 L529.50 772.50" fill="none" stroke="#A5A5A5" stroke-width="1.0" stroke-linecap="round" stroke-linejoin="round"/></g>
<g><rect x="9" y="76" width="57" height="57" stroke="#A54B4B" stroke-width="4" fill="none" stroke-linejoin="round"/>
<circle cx="26.5" cy="95.5" r="6.5" stroke="#A54B4B" stroke-width="2" fill="none"/>
<rect x="32.5" y="94" width="6" height="2" fill="#A54B4B"/>
<circle cx="26.5" cy="114.5" r="6.5" stroke="#A54B4B" stroke-width="2" fill="none"/>
<rect x="32.5" y="113" width="6" height="2" fill="#A54B4B"/>
<polyline points="104,24.7 114.5,9.9 124.8,24.7" stroke="#A54B4B" stroke-width="2" fill="none" stroke-linejoin="miter"/>
<polyline points="104,34.6 114.5,19.8 124.8,34.6" stroke="#A54B4B" stroke-width="2" fill="none" stroke-linejoin="miter"/>
<rect x="113" y="18.8" width="2" height="20.2" fill="#A54B4B"/>
<rect x="113" y="94" width="2" height="20" fill="#A54B4B"/>
<rect x="103" y="114" width="22" height="6" stroke="#A54B4B" stroke-width="2" fill="none" stroke-linejoin="round"/>
<rect x="102" y="126" width="25" height="7" fill="#A54B4B"/>
<rect x="113" y="132" width="2" height="21" fill="#A54B4B"/>
<rect x="102" y="107" width="7" height="1.2" fill="#A54B4B"/>
<rect x="105" y="105" width="1.2" height="6" fill="#A54B4B"/>
<rect x="151" y="94" width="2" height="24" fill="#A54B4B"/>
<rect x="137" y="117" width="31" height="5" fill="#A54B4B"/>
<rect x="137" y="125" width="31" height="5" fill="#A54B4B"/>
<rect x="151" y="129" width="2" height="24" fill="#A54B4B"/>
<rect x="171" y="76" width="76" height="57" stroke="#A54B4B" stroke-width="4" fill="none" stroke-linejoin="round"/>
<rect x="151" y="94" width="21" height="2" fill="#A54B4B"/>
<rect x="246" y="94" width="21" height="2" fill="#A54B4B"/>
<rect x="208" y="132" width="2" height="40" fill="#A54B4B"/>
<rect x="194" y="170" width="30" height="2" fill="#A54B4B"/>
<rect x="265" y="94" width="2" height="24" fill="#A54B4B"/>
<rect x="251" y="117" width="31" height="5" fill="#A54B4B"/>
<rect x="251" y="125" width="31" height="5" fill="#A54B4B"/>
<rect x="265" y="129" width="2" height="24" fill="#A54B4B"/>
<rect x="303" y="94" width="2" height="24" fill="#A54B4B"/>
<rect x="289" y="117" width="31" height="5" fill="#A54B4B"/>
<rect x="289" y="125" width="31" height="5" fill="#A54B4B"/>
<rect x="303" y="129" width="2" height="24" fill="#A54B4B"/>
<rect x="341" y="94" width="2" height="24" fill="#A54B4B"/>
<rect x="327" y="117" width="31" height="5" fill="#A54B4B"/>
<rect x="327" y="125" width="31" height="5" fill="#A54B4B"/>
<rect x="341" y="129" width="2" height="24" fill="#A54B4B"/>
<polyline points="465.4,53.1 475.5,38.6 485.4,53.1" stroke="#A54B4B" stroke-width="2" fill="none" stroke-linejoin="miter"/>
<rect x="474" y="37.6" width="2" height="20.4" fill="#A54B4B"/>
<rect x="361" y="209" width="342" height="247" stroke="#A54B4B" stroke-width="2" fill="none" stroke-linejoin="round"/>
<rect x="379" y="189" width="2" height="21" fill="#A54B4B"/>
<rect x="398" y="189" width="2" height="21" fill="#A54B4B"/>
<rect x="436" y="189" width="2" height="21" fill="#A54B4B"/>
<rect x="474" y="189" width="2" height="21" fill="#A54B4B"/>
<rect x="379" y="455" width="2" height="21" fill="#A54B4B"/>
<rect x="398" y="455" width="2" height="21" fill="#A54B4B"/>
<rect x="417" y="455" width="2" height="21" fill="#A54B4B"/>
<rect x="436" y="455" width="2" height="21" fill="#A54B4B"/>
<rect x="455" y="455" width="2" height="21" fill="#A54B4B"/>
<rect x="474" y="455" width="2" height="21" fill="#A54B4B"/>
<rect x="493" y="455" width="2" height="21" fill="#A54B4B"/>
<rect x="512" y="455" width="2" height="21" fill="#A54B4B"/>
<rect x="550" y="455" width="2" height="21" fill="#A54B4B"/>
<rect x="569" y="455" width="2" height="21" fill="#A54B4B"/>
<rect x="588" y="455" width="2" height="21" fill="#A54B4B"/>
<rect x="607" y="455" width="2" height="21" fill="#A54B4B"/>
<rect x="626" y="455" width="2" height="21" fill="#A54B4B"/>
<rect x="645" y="455" width="2" height="21" fill="#A54B4B"/>
<rect x="664" y="455" width="2" height="21" fill="#A54B4B"/>
<rect x="683" y="455" width="2" height="21" fill="#A54B4B"/>
<rect x="513" y="522" width="133" height="57" stroke="#A54B4B" stroke-width="4" fill="none" stroke-linejoin="round"/>
<circle cx="532.5" cy="563.5" r="6.5" stroke="#A54B4B" stroke-width="2" fill="none"/>
<rect x="531" y="550.5" width="2" height="6" fill="#A54B4B"/>
<circle cx="551.5" cy="563.5" r="6.5" stroke="#A54B4B" stroke-width="2" fill="none"/>
<rect x="550" y="550.5" width="2" height="6" fill="#A54B4B"/>
<circle cx="570.5" cy="563.5" r="6.5" stroke="#A54B4B" stroke-width="2" fill="none"/>
<rect x="569" y="550.5" width="2" height="6" fill="#A54B4B"/>
<circle cx="589.5" cy="563.5" r="6.5" stroke="#A54B4B" stroke-width="2" fill="none"/>
<rect x="588" y="550.5" width="2" height="6" fill="#A54B4B"/>
<circle cx="608.5" cy="563.5" r="6.5" stroke="#A54B4B" stroke-width="2" fill="none"/>
<rect x="607" y="550.5" width="2" height="6" fill="#A54B4B"/>
<circle cx="627.5" cy="563.5" r="6.5" stroke="#A54B4B" stroke-width="2" fill="none"/>
<rect x="626" y="550.5" width="2" height="6" fill="#A54B4B"/>
<polyline points="522.4,509.1 532.5,494.6 542.4,509.1" stroke="#A54B4B" stroke-width="2" fill="none" stroke-linejoin="miter"/>
<rect x="531" y="493.6" width="2" height="20.4" fill="#A54B4B"/>
<rect x="626" y="588" width="2" height="21" fill="#A54B4B"/>
<rect x="612" y="607" width="30" height="2" fill="#A54B4B"/>
<rect x="683" y="512" width="2" height="21" fill="#A54B4B"/>
<rect x="678" y="532" width="13" height="38" stroke="#A54B4B" stroke-width="2" fill="none" stroke-linejoin="round"/>
<rect x="683" y="569" width="2" height="21" fill="#A54B4B"/>
<polyline points="731.4,585.1 741.5,570.6 751.4,585.1" stroke="#A54B4B" stroke-width="2" fill="none" stroke-linejoin="miter"/>
<rect x="740" y="569.6" width="2" height="20.4" fill="#A54B4B"/>
<rect x="569" y="588" width="2" height="21" fill="#A54B4B"/>
<rect x="564" y="608" width="13" height="38" stroke="#A54B4B" stroke-width="2" fill="none" stroke-linejoin="round"/>
<rect x="569" y="645" width="2" height="21" fill="#A54B4B"/>
<rect x="740" y="664" width="19" height="2" fill="#A54B4B"/>
<rect x="758" y="646" width="7" height="39" fill="#A54B4B"/>
<line x1="765" y1="654.5" x2="779" y2="647" stroke="#A54B4B" stroke-width="2" stroke-linecap="round"/>
<rect x="778" y="626" width="2" height="22" fill="#A54B4B"/>
<line x1="765" y1="677" x2="771" y2="680.5" stroke="#A54B4B" stroke-width="2" stroke-linecap="round"/>
<polygon points="769.5,684.5 774.5,675.5 779.5,684" stroke="#A54B4B" stroke-width="0" fill="#A54B4B" stroke-linejoin="miter"/>
<rect x="778" y="683" width="2" height="21" fill="#A54B4B"/>
<rect x="778" y="778" width="2" height="21" fill="#A54B4B"/>
<rect x="764" y="797" width="30" height="2" fill="#A54B4B"/>
<polyline points="769,62.7 779.5,47.9 789.8,62.7" stroke="#A54B4B" stroke-width="2" fill="none" stroke-linejoin="miter"/>
<polyline points="769,72.6 779.5,57.8 789.8,72.6" stroke="#A54B4B" stroke-width="2" fill="none" stroke-linejoin="miter"/>
<rect x="778" y="56.8" width="2" height="20.2" fill="#A54B4B"/>
<rect x="778" y="189" width="2" height="21" fill="#A54B4B"/>
<rect x="773" y="209" width="13" height="38" stroke="#A54B4B" stroke-width="2" fill="none" stroke-linejoin="round"/>
<rect x="778" y="246" width="2" height="21" fill="#A54B4B"/>
<rect x="778" y="284" width="2" height="230" fill="#A54B4B"/>
<polygon points="770,304 789,304 779.5,322" stroke="#A54B4B" stroke-width="2" fill="none" stroke-linejoin="miter"/>
<rect x="769" y="322" width="21" height="2" fill="#A54B4B"/>
<line x1="764.6" y1="309.4" x2="759" y2="315.6" stroke="#A54B4B" stroke-width="2" stroke-linecap="round"/>
<polygon points="753.6,320.3 756.6,312.8 760.3,315.2 760.3,318.4 756.8,319.9" stroke="#A54B4B" stroke-width="1" fill="#A54B4B" stroke-linejoin="miter"/>
<line x1="765.5" y1="317.8" x2="759.9" y2="324" stroke="#A54B4B" stroke-width="2" stroke-linecap="round"/>
<polygon points="754.5,328.7 757.5,321.2 761.2,323.6 761.2,326.8 757.7,328.3" stroke="#A54B4B" stroke-width="1" fill="#A54B4B" stroke-linejoin="miter"/>
<polygon points="770,361 789,361 779.5,379" stroke="#A54B4B" stroke-width="2" fill="none" stroke-linejoin="miter"/>
<rect x="769" y="379" width="21" height="2" fill="#A54B4B"/>
<line x1="764.6" y1="366.4" x2="759" y2="372.6" stroke="#A54B4B" stroke-width="2" stroke-linecap="round"/>
<polygon points="753.6,377.3 756.6,369.8 760.3,372.2 760.3,375.4 756.8,376.9" stroke="#A54B4B" stroke-width="1" fill="#A54B4B" stroke-linejoin="miter"/>
<line x1="765.5" y1="374.8" x2="759.9" y2="381" stroke="#A54B4B" stroke-width="2" stroke-linecap="round"/>
<polygon points="754.5,385.7 757.5,378.2 761.2,380.6 761.2,383.8 757.7,385.3" stroke="#A54B4B" stroke-width="1" fill="#A54B4B" stroke-linejoin="miter"/>
<polygon points="770,418 789,418 779.5,436" stroke="#A54B4B" stroke-width="2" fill="none" stroke-linejoin="miter"/>
<rect x="769" y="436" width="21" height="2" fill="#A54B4B"/>
<line x1="764.6" y1="423.4" x2="759" y2="429.6" stroke="#A54B4B" stroke-width="2" stroke-linecap="round"/>
<polygon points="753.6,434.3 756.6,426.8 760.3,429.2 760.3,432.4 756.8,433.9" stroke="#A54B4B" stroke-width="1" fill="#A54B4B" stroke-linejoin="miter"/>
<line x1="765.5" y1="431.8" x2="759.9" y2="438" stroke="#A54B4B" stroke-width="2" stroke-linecap="round"/>
<polygon points="754.5,442.7 757.5,435.2 761.2,437.6 761.2,440.8 757.7,442.3" stroke="#A54B4B" stroke-width="1" fill="#A54B4B" stroke-linejoin="miter"/>
<polygon points="770,475 789,475 779.5,493" stroke="#A54B4B" stroke-width="2" fill="none" stroke-linejoin="miter"/>
<rect x="769" y="493" width="21" height="2" fill="#A54B4B"/>
<line x1="764.6" y1="480.4" x2="759" y2="486.6" stroke="#A54B4B" stroke-width="2" stroke-linecap="round"/>
<polygon points="753.6,491.3 756.6,483.8 760.3,486.2 760.3,489.4 756.8,490.9" stroke="#A54B4B" stroke-width="1" fill="#A54B4B" stroke-linejoin="miter"/>
<line x1="765.5" y1="488.8" x2="759.9" y2="495" stroke="#A54B4B" stroke-width="2" stroke-linecap="round"/>
<polygon points="754.5,499.7 757.5,492.2 761.2,494.6 761.2,497.8 757.7,499.3" stroke="#A54B4B" stroke-width="1" fill="#A54B4B" stroke-linejoin="miter"/>
<rect x="455" y="664" width="21" height="2" fill="#A54B4B"/>
<rect x="475" y="658" width="38" height="14" stroke="#A54B4B" stroke-width="2" fill="none" stroke-linejoin="round"/>
<rect x="512" y="664" width="21" height="2" fill="#A54B4B"/>
<rect x="493" y="721" width="40" height="2" fill="#A54B4B"/>
<rect x="503" y="712" width="2" height="19" fill="#A54B4B"/>
<rect x="504" y="712" width="4" height="2" fill="#A54B4B"/>
<polygon points="523,712.5 505,722 523,731.5" stroke="#A54B4B" stroke-width="2" fill="none" stroke-linejoin="miter"/>
<rect x="494" y="750" width="57" height="57" stroke="#A54B4B" stroke-width="4" fill="none" stroke-linejoin="round"/>
<circle cx="513.5" cy="791.5" r="6.5" stroke="#A54B4B" stroke-width="2" fill="none"/>
<rect x="512" y="778.5" width="2" height="6" fill="#A54B4B"/>
<circle cx="532.5" cy="791.5" r="6.5" stroke="#A54B4B" stroke-width="2" fill="none"/>
<rect x="531" y="778.5" width="2" height="6" fill="#A54B4B"/>
<rect x="38" y="94" width="114" height="2" fill="#4BA54B"/>
<rect x="266" y="94" width="209" height="2" fill="#4BA54B"/>
<rect x="37" y="114" width="2" height="39" fill="#4BA54B"/>
<rect x="37" y="151" width="268" height="2" fill="#4BA54B"/>
<rect x="303" y="151" width="2" height="40" fill="#4BA54B"/>
<rect x="303" y="189" width="96" height="2" fill="#4BA54B"/>
<rect x="113" y="38" width="2" height="57" fill="#4BA54B"/>
<rect x="341" y="152" width="2" height="38" fill="#4BA54B"/>
<rect x="437" y="189" width="39" height="2" fill="#4BA54B"/>
<rect x="474" y="57" width="2" height="134" fill="#4BA54B"/>
<rect x="512" y="475" width="2" height="39" fill="#4BA54B"/>
<rect x="455" y="512" width="59" height="2" fill="#4BA54B"/>
<rect x="455" y="512" width="2" height="211" fill="#4BA54B"/>
<rect x="455" y="721" width="39" height="2" fill="#4BA54B"/>
<rect x="531" y="665" width="2" height="114" fill="#4BA54B"/>
<rect x="493" y="722" width="2" height="58" fill="#4BA54B"/>
<rect x="493" y="778" width="20" height="2" fill="#4BA54B"/>
<rect x="531" y="513" width="2" height="38" fill="#4BA54B"/>
<rect x="550" y="475" width="2" height="76" fill="#4BA54B"/>
<rect x="569" y="475" width="2" height="114" fill="#4BA54B"/>
<rect x="588" y="475" width="2" height="76" fill="#4BA54B"/>
<rect x="607" y="512" width="2" height="39" fill="#4BA54B"/>
<rect x="607" y="512" width="78" height="2" fill="#4BA54B"/>
<rect x="683" y="475" width="2" height="39" fill="#4BA54B"/>
<rect x="626" y="551" width="2" height="38" fill="#4BA54B"/>
<rect x="684" y="588" width="57" height="2" fill="#4BA54B"/>
<rect x="570" y="664" width="171" height="2" fill="#4BA54B"/>
<rect x="778" y="513" width="2" height="114" fill="#4BA54B"/>
<rect x="778" y="703" width="2" height="76" fill="#4BA54B"/>
<rect x="778" y="76" width="2" height="114" fill="#4BA54B"/>
<rect x="778" y="266" width="2" height="19" fill="#4BA54B"/>
<circle cx="114.5" cy="95.5" r="4.6" stroke="#4BA54B" stroke-width="0" fill="#4BA54B"/>
<circle cx="152.5" cy="95.5" r="4.6" stroke="#4BA54B" stroke-width="0" fill="#4BA54B"/>
<circle cx="114.5" cy="152.5" r="4.6" stroke="#4BA54B" stroke-width="0" fill="#4BA54B"/>
<circle cx="152.5" cy="152.5" r="4.6" stroke="#4BA54B" stroke-width="0" fill="#4BA54B"/>
<circle cx="209.5" cy="152.5" r="4.6" stroke="#4BA54B" stroke-width="0" fill="#4BA54B"/>
<circle cx="266.5" cy="95.5" r="4.6" stroke="#4BA54B" stroke-width="0" fill="#4BA54B"/>
<circle cx="266.5" cy="152.5" r="4.6" stroke="#4BA54B" stroke-width="0" fill="#4BA54B"/>
<circle cx="304.5" cy="95.5" r="4.6" stroke="#4BA54B" stroke-width="0" fill="#4BA54B"/>
<circle cx="304.5" cy="152.5" r="4.6" stroke="#4BA54B" stroke-width="0" fill="#4BA54B"/>
<circle cx="342.5" cy="95.5" r="4.6" stroke="#4BA54B" stroke-width="0" fill="#4BA54B"/>
<circle cx="342.5" cy="190.5" r="4.6" stroke="#4BA54B" stroke-width="0" fill="#4BA54B"/>
<circle cx="475.5" cy="95.5" r="4.6" stroke="#4BA54B" stroke-width="0" fill="#4BA54B"/>
<circle cx="475.5" cy="190.5" r="4.6" stroke="#4BA54B" stroke-width="0" fill="#4BA54B"/>
<circle cx="570.5" cy="551.5" r="4.6" stroke="#4BA54B" stroke-width="0" fill="#4BA54B"/>
<circle cx="684.5" cy="513.5" r="4.6" stroke="#4BA54B" stroke-width="0" fill="#4BA54B"/>
<circle cx="456.5" cy="665.5" r="4.6" stroke="#4BA54B" stroke-width="0" fill="#4BA54B"/>
<circle cx="494.5" cy="722.5" r="4.6" stroke="#4BA54B" stroke-width="0" fill="#4BA54B"/>
<circle cx="532.5" cy="722.5" r="4.6" stroke="#4BA54B" stroke-width="0" fill="#4BA54B"/></g>
</svg></body></html>
